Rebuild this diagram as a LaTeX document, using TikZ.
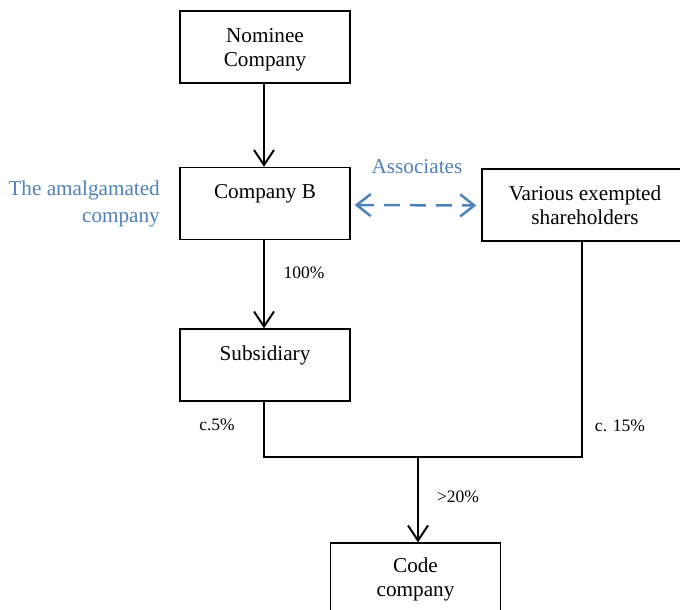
\documentclass[tikz,border=0pt]{standalone}
\usepackage{fontspec}
\setmainfont{Liberation Serif}
\usetikzlibrary{arrows.meta}
\definecolor{assocblue}{HTML}{4F81BD}
\tikzset{
  box/.style={draw, line width=1.4pt, minimum width=170pt, minimum height=72pt, align=center, inner sep=0pt, font=\fontsize{21.2}{24}\selectfont},
  lbl/.style={font=\fontsize{17.5}{20}\selectfont, inner sep=0pt},
  own/.style={line width=2pt, -{Straight Barb[length=15pt, width=20pt, line width=2pt]}},
  assoc/.style={line width=2.5pt, assocblue, dash pattern=on 16pt off 10pt, {Straight Barb[length=14pt, width=22pt, line width=2.5pt]}-{Straight Barb[length=14pt, width=22pt, line width=2.5pt]}},
  bluetext/.style={text=assocblue, font=\fontsize{21.2}{27}\selectfont, inner sep=0pt}
}
\begin{document}
\begin{tikzpicture}[x=1pt, y=-1pt]
\useasboundingbox (0,0) rectangle (680,610);
\node[box] (nom) at (265,47) {\rule{0pt}{20.5pt}Nominee\\Company};
\node[box] (cb) at (265,203.5) {Company B\\\mbox{}};
\node[box, minimum width=206pt] (ve) at (585,205) {Various exempted\\shareholders};
\node[box] (sub) at (265,365) {Subsidiary\\\mbox{}};
\node[box] (code) at (415.5,579) {Code\\company};
\node[bluetext, align=right, anchor=east] (amal) at (160,203.5) {The amalgamated\\company};
\node[bluetext] (asc) at (417,167) {Associates};
\node[lbl] (p100) at (304,273) {100\%};
\node[lbl] (p5) at (217,425) {c.5\%};
\node[lbl] (p15) at (620,426) {c. 15\%};
\node[lbl] (p20) at (458,497) {>20\%};
\coordinate (vs) at ([xshift=-3pt]ve.south);
\coordinate (j) at (418,457);
\draw[own] (nom.south -| 264,0) -- (cb.north -| 264,0);
\draw[own] (cb.south -| 264,0) -- (sub.north -| 264,0);
\draw[line width=2pt] (sub.south -| 264,0) |- (vs |- j) -- (vs);
\draw[own] (j) -- (j |- code.north);
\draw[assoc] ([xshift=4pt,yshift=-1.5pt]cb.east) -- ([xshift=-5pt,yshift=-0.5pt]ve.west);
\end{tikzpicture}
\end{document}
